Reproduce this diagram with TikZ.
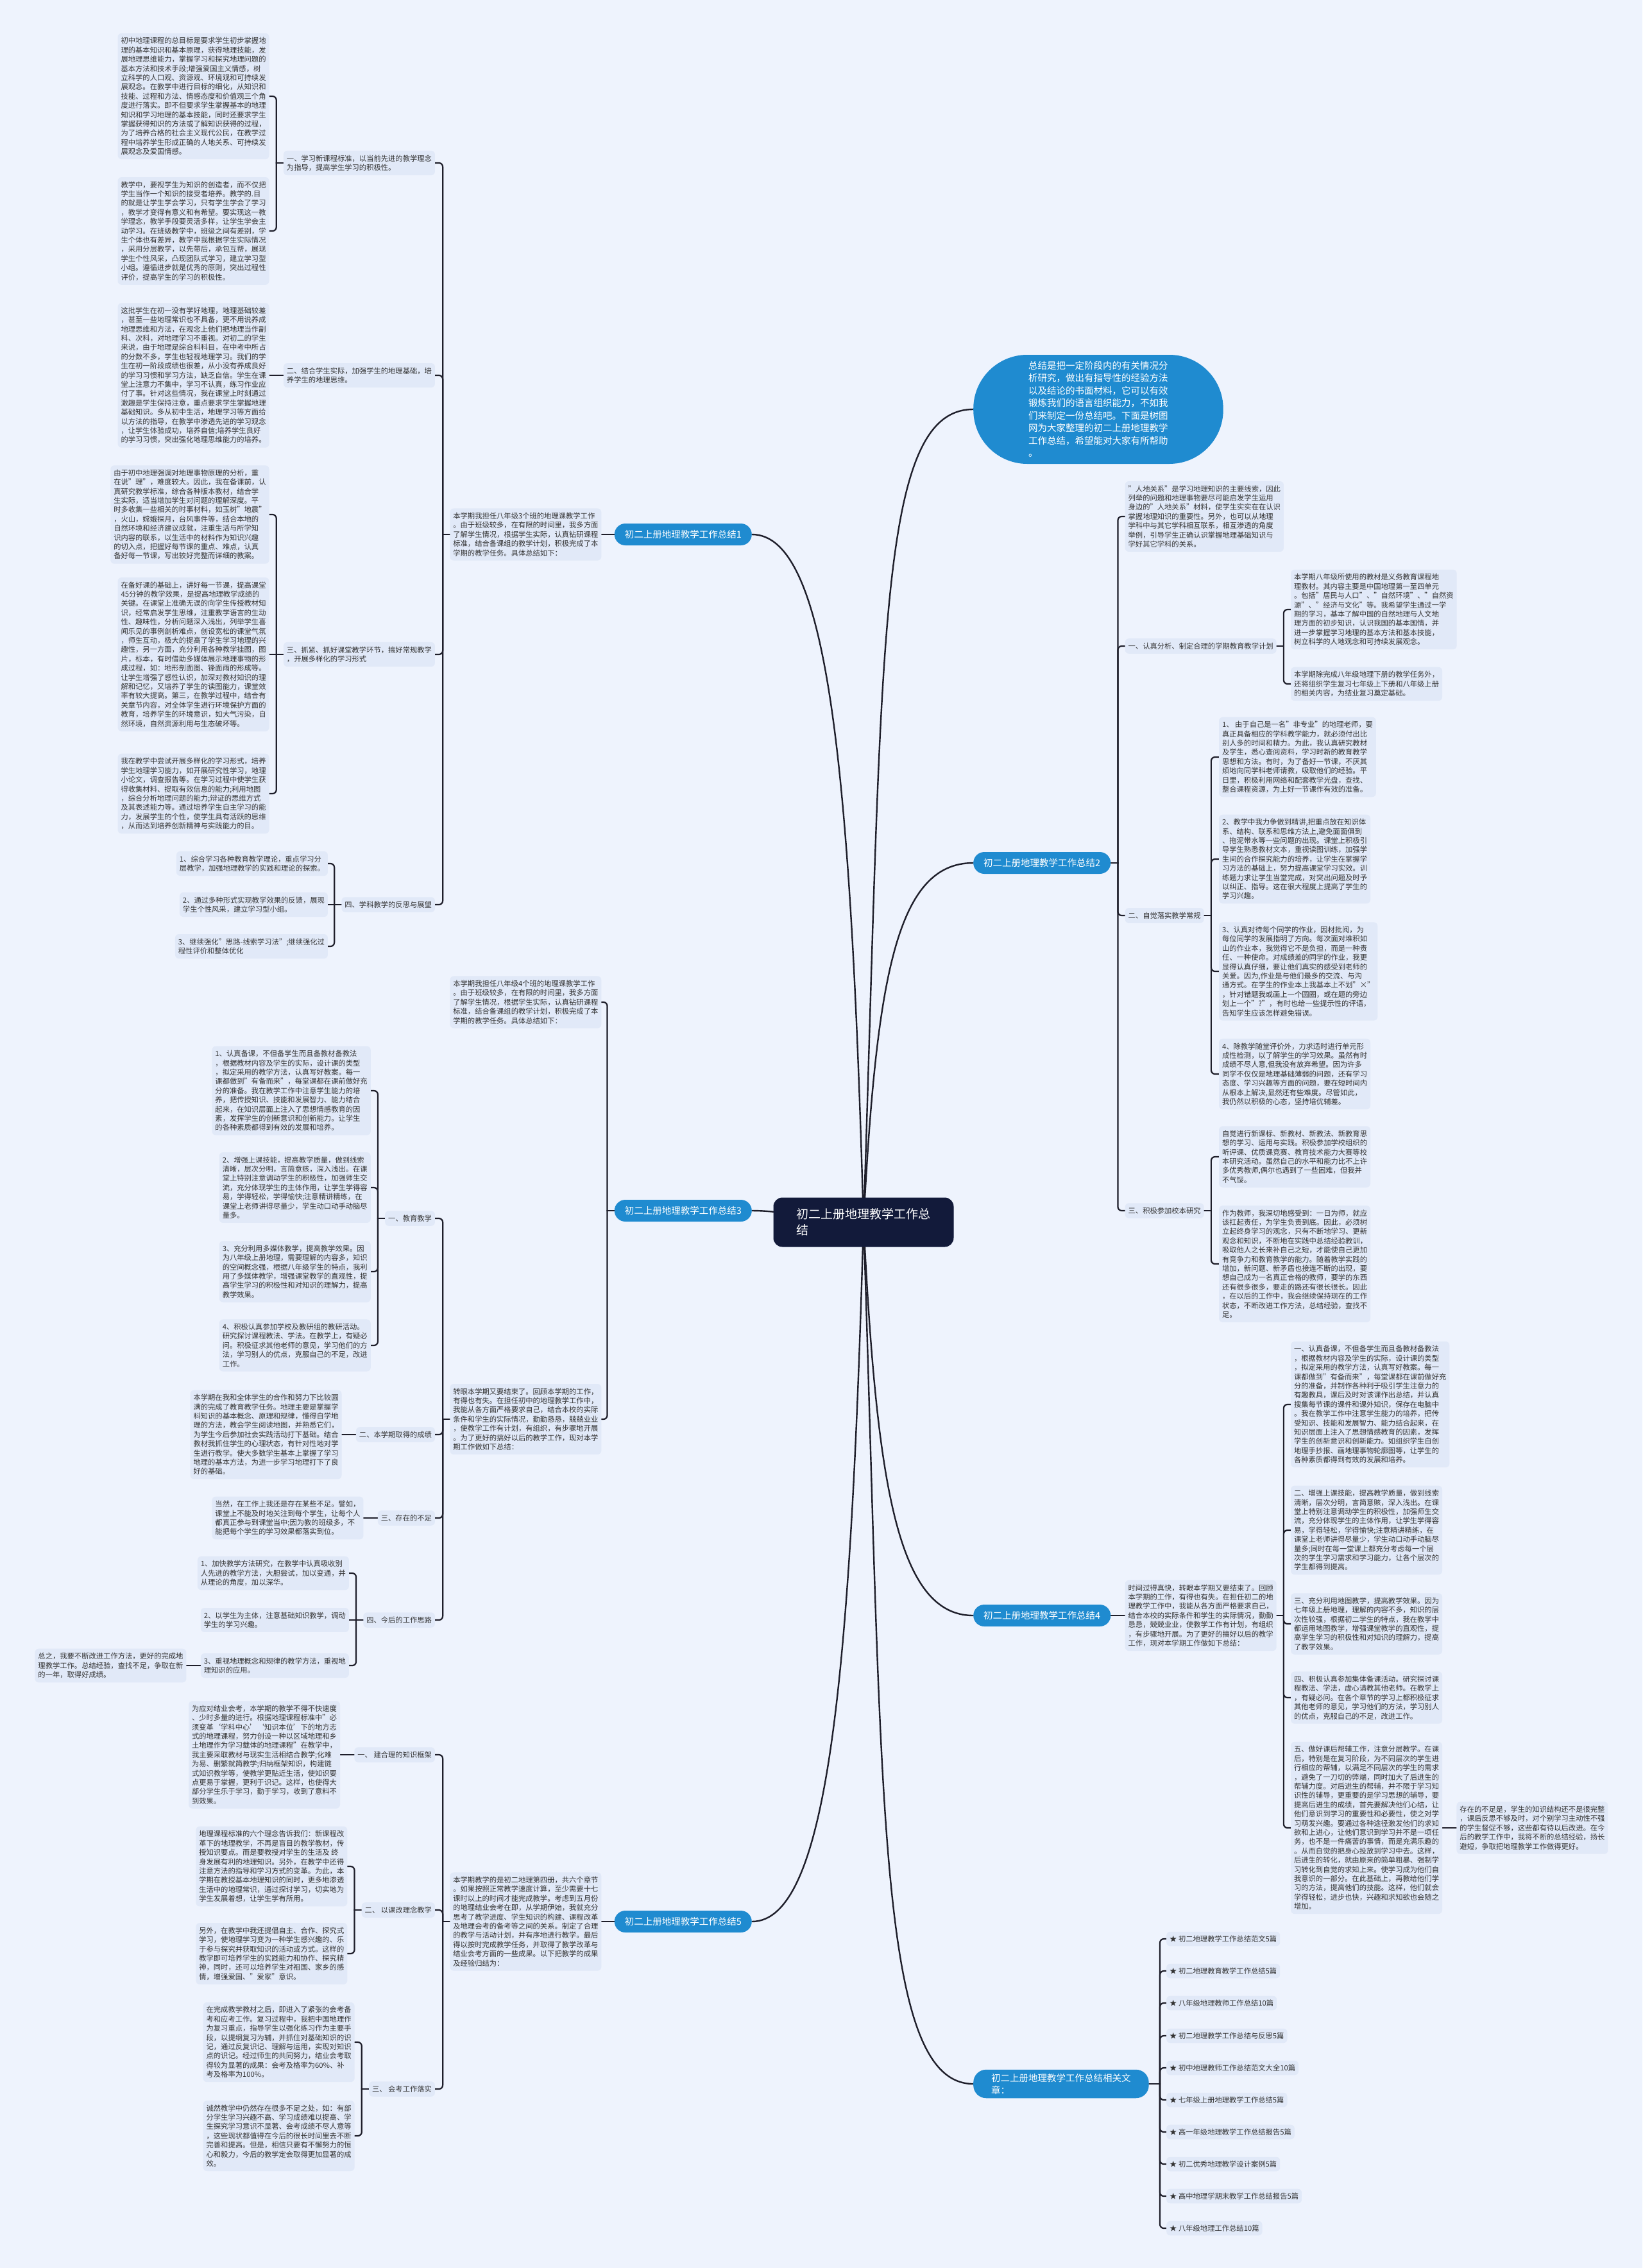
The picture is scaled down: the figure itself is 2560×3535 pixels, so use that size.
\documentclass[tikz,border=0pt]{standalone}
\usepackage{fontspec}
\setmainfont{Noto Sans CJK SC}
\usetikzlibrary{calc,backgrounds}
\definecolor{bgc}{HTML}{EEF3FD}
\definecolor{boxc}{HTML}{E1E9F8}
\definecolor{txt}{HTML}{333333}
\definecolor{linec}{HTML}{1E1E2A}
\definecolor{pillc}{HTML}{1F8BD0}
\definecolor{rootc}{HTML}{121A3A}
\newcommand{\brL}[2]{\draw[conn] (#1.west) -- ++(-11,0); \draw[conn] ($(#1.west)+(-11,0)$) |- (#2.east);}
\newcommand{\brR}[2]{\draw[conn] (#1.east) -- ++(11,0); \draw[conn] ($(#1.east)+(11,0)$) |- (#2.west);}
\newcommand{\stL}[2]{\draw[conn] (#1.west) -- (#2.east);}
\newcommand{\stR}[2]{\draw[conn] (#1.east) -- (#2.west);}
\begin{document}
\begin{tikzpicture}[x=1pt,y=-1pt,
  box/.style={fill=boxc, rounded corners=6pt, inner xsep=5pt, inner ysep=6.5pt, align=left, text=txt, font=\fontsize{11.3}{14.4}\selectfont},
  pill/.style={fill=pillc, rounded corners=17pt, text=white, inner xsep=16pt, inner ysep=6pt, minimum height=34pt, align=left, font=\fontsize{14.5}{19}\selectfont},
  conn/.style={draw=linec, line width=2.2pt, rounded corners=6pt, line cap=round},
  rootconn/.style={draw=linec, line width=2.4pt, line cap=round}]
\useasboundingbox (0,0) rectangle (2560,3535);

% ---------- root ----------
\node[fill=rootc, text=white, rounded corners=14pt, inner xsep=36pt, inner ysep=13pt, minimum height=77pt, align=left, font=\fontsize{19}{25}\selectfont] (root) at (1346,1905) {初二上册地理教学工作总\\结};

% ---------- root intro ----------
\node[fill=pillc, text=white, rounded corners=84pt, inner xsep=86pt, inner ysep=8pt, minimum height=170pt, align=left, font=\fontsize{14.5}{19.5}\selectfont, anchor=west] (RI) at (1517,638) {总结是把一定阶段内的有关情况分\\析研究，做出有指导性的经验方法\\以及结论的书面材料，它可以有效\\锻炼我们的语言组织能力，不如我\\们来制定一份总结吧。下面是树图\\网为大家整理的初二上册地理教学\\工作总结，希望能对大家有所帮助\\。};

% ---------- section 1 ----------
\node[pill, anchor=east] (T1) at (1172,833) {初二上册地理教学工作总结1};
\node[box, anchor=east] (I1) at ($(T1.west)+(-20,0)$) {本学期我担任八年级3个班的地理课教学工作\\。由于班级较多，在有限的时间里，我多方面\\了解学生情况，根据学生实际，认真钻研课程\\标准，结合备课组的教学计划，积极完成了本\\学期的教学任务。具体总结如下：};
\node[box, anchor=east] (L1) at ($(I1.west)+(-23,-579)$) {一、学习新课程标准，以当前先进的教学理念\\为指导，提高学生学习的积极性。};
\node[box, anchor=east] (L2) at ($(I1.west)+(-23,-248)$) {二、结合学生实际，加强学生的地理基础，培\\养学生的地理思维。};
\node[box, anchor=east] (L3) at ($(I1.west)+(-23,187)$) {三、抓紧、抓好课堂教学环节，搞好常规教学\\，开展多样化的学习形式};
\node[box, anchor=east] (L4) at ($(I1.west)+(-23,577)$) {四、学科教学的反思与展望};
\node[box, anchor=east] (A1) at ($(L1.west)+(-22,-104)$) {初中地理课程的总目标是要求学生初步掌握地\\理的基本知识和基本原理，获得地理技能，发\\展地理思维能力，掌握学习和探究地理问题的\\基本方法和技术手段;增强爱国主义情感，树\\立科学的人口观、资源观、环境观和可持续发\\展观念。在教学中进行目标的细化，从知识和\\技能、过程和方法、情感态度和价值观三个角\\度进行落实。即不但要求学生掌握基本的地理\\知识和学习地理的基本技能，同时还要求学生\\掌握获得知识的方法或了解知识获得的过程，\\为了培养合格的社会主义现代公民，在教学过\\程中培养学生形成正确的人地关系、可持续发\\展观念及爱国情感。};
\node[box, anchor=east] (A2) at ($(L1.west)+(-22,106)$) {教学中，要视学生为知识的创造者，而不仅把\\学生当作一个知识的接受者培养。教学的.目\\的就是让学生学会学习，只有学生学会了学习\\，教学才变得有意义和有希望。要实现这一教\\学理念，教学手段要灵活多样，让学生学会主\\动学习。在班级教学中，班级之间有差别，学\\生个体也有差异，教学中我根据学生实际情况\\，采用分层教学，以先带后，承包互帮，展现\\学生个性风采，凸现团队式学习，建立学习型\\小组。遵循进步就是优秀的原则，突出过程性\\评价，提高学生的学习的积极性。};
\node[box, anchor=east] (A3) at ($(L2.west)+(-22,0)$) {这批学生在初一没有学好地理，地理基础较差\\，甚至一些地理常识也不具备，更不用说养成\\地理思维和方法，在观念上他们把地理当作副\\科、次科，对地理学习不重视。对初二的学生\\来说，由于地理是综合科科目，在中考中所占\\的分数不多，学生也轻视地理学习。我们的学\\生在初一阶段成绩也很差，从小没有养成良好\\的学习习惯和学习方法，缺乏自信。学生在课\\堂上注意力不集中，学习不认真，练习作业应\\付了事。针对这些情况，我在课堂上时刻通过\\激趣是学生保持注意，重点要求学生掌握地理\\基础知识。多从初中生活，地理学习等方面给\\以方法的指导，在教学中渗透先进的学习观念\\，让学生体验成功，培养自信;培养学生良好\\的学习习惯，突出强化地理思维能力的培养。};
\node[box, anchor=east] (A4) at ($(L3.west)+(-22,-218)$) {由于初中地理强调对地理事物原理的分析，重\\在说"理"，难度较大。因此，我在备课前，认\\真研究教学标准，综合各种版本教材，结合学\\生实际，适当增加学生对问题的理解深度。平\\时多收集一些相关的时事材料，如玉树"地震"\\，火山，嫦娥探月，台风事件等，结合本地的\\自然环境和经济建议成就，注重生活与所学知\\识内容的联系，以生活中的材料作为知识兴趣\\的切入点，把握好每节课的重点、难点，认真\\备好每一节课，写出较好完整而详细的教案。};
\node[box, anchor=east] (A5) at ($(L3.west)+(-22,0)$) {在备好课的基础上，讲好每一节课，提高课堂\\45分钟的教学效果，是提高地理教学成绩的\\关键。在课堂上准确无误的向学生传授教材知\\识，经常启发学生思维，注重教学语言的生动\\性、趣味性，分析问题深入浅出，列举学生喜\\闻乐见的事例剖析难点，创设宽松的课堂气氛\\，师生互动，极大的提高了学生学习地理的兴\\趣性，另一方面，充分利用各种教学挂图，图\\片，标本，有时借助多媒体展示地理事物的形\\成过程，如：地形剖面图、锋面雨的形成等。\\让学生增强了感性认识，加深对教材知识的理\\解和记忆，又培养了学生的读图能力，课堂效\\率有较大提高。第三，在教学过程中，结合有\\关章节内容，对全体学生进行环境保护方面的\\教育，培养学生的环境意识，如大气污染，自\\然环境，自然资源利用与生态破坏等。};
\node[box, anchor=east] (A6) at ($(L3.west)+(-22,217)$) {我在教学中尝试开展多样化的学习形式，培养\\学生地理学习能力，如开展研究性学习，地理\\小论文，调查报告等。在学习过程中使学生获\\得收集材料、提取有效信息的能力;利用地图\\，综合分析地理问题的能力;辩证的思维方式\\及其表述能力等。通过培养学生自主学习的能\\力，发展学生的个性，使学生具有活跃的思维\\，从而达到培养创新精神与实践能力的目。};
\node[box, anchor=east] (B1) at ($(L4.west)+(-21,-64)$) {1、综合学习各种教育教学理论，重点学习分\\层教学，加强地理教学的实践和理论的探索。};
\node[box, anchor=east] (B2) at ($(L4.west)+(-21,0)$) {2、通过多种形式实现教学效果的反馈，展现\\学生个性风采，建立学习型小组。};
\node[box, anchor=east] (B3) at ($(L4.west)+(-21,65)$) {3、继续强化"思路-线索学习法";继续强化过\\程性评价和整体优化};

% ---------- section 3 ----------
\node[pill, anchor=east] (T3) at (1172,1887) {初二上册地理教学工作总结3};
\node[box, anchor=east] (I3) at ($(T3.west)+(-20,-325)$) {本学期我担任八年级4个班的地理课教学工作\\。由于班级较多，在有限的时间里，我多方面\\了解学生情况，根据学生实际，认真钻研课程\\标准，结合备课组的教学计划，积极完成了本\\学期的教学任务。具体总结如下：};
\node[box, anchor=east] (I3b) at ($(T3.west)+(-20,325)$) {转眼本学期又要结束了。回顾本学期的工作，\\有得也有失。在担任初中的地理教学工作中，\\我能从各方面严格要求自己，结合本校的实际\\条件和学生的实际情况，勤勤恳恳，兢兢业业\\，使教学工作有计划，有组织，有步骤地开展\\。为了更好的搞好以后的教学工作，现对本学\\期工作做如下总结：};
\node[box, anchor=east] (S31) at ($(I3b.west)+(-23,-313)$) {一、教育教学};
\node[box, anchor=east] (S32) at ($(I3b.west)+(-23,24)$) {二、本学期取得的成绩};
\node[box, anchor=east] (S33) at ($(I3b.west)+(-23,154)$) {三、存在的不足};
\node[box, anchor=east] (S34) at ($(I3b.west)+(-23,313)$) {四、今后的工作思路};
\node[box, anchor=east] (C1) at ($(S31.west)+(-22,-199)$) {1、认真备课，不但备学生而且备教材备教法\\，根据教材内容及学生的实际，设计课的类型\\，拟定采用的教学方法，认真写好教案。每一\\课都做到"有备而来"，每堂课都在课前做好充\\分的准备。我在教学工作中注意学生能力的培\\养，把传授知识、技能和发展智力、能力结合\\起来，在知识层面上注入了思想情感教育的因\\素，发挥学生的创新意识和创新能力。让学生\\的各种素质都得到有效的发展和培养。};
\node[box, anchor=east] (C2) at ($(S31.west)+(-22,-48)$) {2、增强上课技能，提高教学质量，做到线索\\清晰，层次分明，言简意赅，深入浅出。在课\\堂上特别注意调动学生的积极性，加强师生交\\流，充分体现学生的主体作用，让学生学得容\\易，学得轻松，学得愉快;注意精讲精练，在\\课堂上老师讲得尽量少，学生动口动手动脑尽\\量多。};
\node[box, anchor=east] (C3) at ($(S31.west)+(-22,83)$) {3、充分利用多媒体教学，提高教学效果。因\\为八年级上册地理，需要理解的内容多，知识\\的空间概念强，根据八年级学生的特点，我利\\用了多媒体教学，增强课堂教学的直观性，提\\高学生学习的积极性和对知识的理解力，提高\\教学效果。};
\node[box, anchor=east] (C4) at ($(S31.west)+(-22,198)$) {4、积极认真参加学校及教研组的教研活动。\\研究探讨课程教法、学法。在教学上，有疑必\\问。积极征求其他老师的意见，学习他们的方\\法，学习别人的优点，克服自己的不足，改进\\工作。};
\node[box, anchor=east] (D1) at ($(S32.west)+(-22,0)$) {本学期在我和全体学生的合作和努力下比较圆\\满的完成了教育教学任务。地理主要是掌握学\\科知识的基本概念、原理和规律，懂得自学地\\理的方法，教会学生阅读地图，并熟悉它们，\\为学生今后参加社会实践活动打下基础。结合\\教材我抓住学生的心理状态，有针对性地对学\\生进行教学。使大多数学生基本上掌握了学习\\地理的基本方法，为进一步学习地理打下了良\\好的基础。};
\node[box, anchor=east] (D2) at ($(S33.west)+(-22,0)$) {当然，在工作上我还是存在某些不足。譬如，\\课堂上不能及时地关注到每个学生，让每个人\\都真正参与到课堂当中;因为教的班级多，不\\能把每个学生的学习效果都落实到位。};
\node[box, anchor=east] (E1) at ($(S34.west)+(-22,-73)$) {1、加快教学方法研究，在教学中认真吸收别\\人先进的教学方法，大胆尝试，加以变通，并\\从理论的角度，加以深华。};
\node[box, anchor=east] (E2) at ($(S34.west)+(-22,0)$) {2、以学生为主体，注意基础知识教学，调动\\学生的学习兴趣。};
\node[box, anchor=east] (E3) at ($(S34.west)+(-22,71)$) {3、重视地理概念和规律的教学方法，重视地\\理知识的应用。};
\node[box, anchor=east] (Z) at ($(E3.west)+(-22,0)$) {总之，我要不断改进工作方法，更好的完成地\\理教学工作。总结经验，查找不足，争取在新\\的一年，取得好成绩。};

% ---------- section 5 ----------
\node[pill, anchor=east] (T5) at (1172,2995) {初二上册地理教学工作总结5};
\node[box, anchor=east] (I5) at ($(T5.west)+(-20,0)$) {本学期教学的是初二地理第四册，共六个章节\\。如果按照正常教学速度计算，至少需要十七\\课时以上的时间才能完成教学。考虑到五月份\\的地理结业会考在即，从学期伊始，我就充分\\思考了教学进度、学生知识的构建、课程改革\\及地理会考的备考等之间的关系。制定了合理\\的教学与活动计划，并有序地进行教学。最后\\得以按时完成教学任务，并取得了教学改革与\\结业会考方面的一些成果。以下把教学的成果\\及经验归结为：};
\node[box, anchor=east] (S51) at ($(I5.west)+(-23,-260)$) {一、 建合理的知识框架};
\node[box, anchor=east] (S52) at ($(I5.west)+(-23,-18)$) {二、 以课改理念教学};
\node[box, anchor=east] (S53) at ($(I5.west)+(-23,261)$) {三、 会考工作落实};
\node[box, anchor=east] (F1) at ($(S51.west)+(-22,0)$) {为应对结业会考，本学期的教学不得不快速度\\、少时多量的进行。根据地理课程标准中"必\\须变革‘学科中心’‘知识本位’下的地方志\\式的地理课程，努力创设一种以区域地理和乡\\土地理作为学习载体的地理课程"在教学中，\\我主要采取教材与现实生活相结合教学;化难\\为易、删繁就简教学;归纳框架知识，构建链\\式知识教学等，使教学更贴近生活，使知识要\\点更易于掌握，更利于识记。这样，也使得大\\部分学生乐于学习，勤于学习，收到了意料不\\到效果。};
\node[box, anchor=east] (F2) at ($(S52.west)+(-22,-68)$) {地理课程标准的六个理念告诉我们：新课程改\\革下的地理教学，不再是盲目的教学教材，传\\授知识要点。而是要教授对学生的生活及 终\\身发展有利的地理知识。另外，在教学中还得\\注意方法的指导和学习方式的变革。为此，本\\学期在教授基本地理知识的同时，更多地渗透\\生活中的地理常识，通过探讨学习，切实地为\\学生发展着想，让学生学有所用。};
\node[box, anchor=east] (F3) at ($(S52.west)+(-22,68)$) {另外，在教学中我还提倡自主、合作、探究式\\学习，使地理学习变为一种学生感兴趣的、乐\\于参与探究并获取知识的活动或方式。这样的\\教学即可培养学生的实践能力和协作、探究精\\神，同时，还可以培养学生对祖国、家乡的感\\情，增强爱国、"爱家"意识。};
\node[box, anchor=east] (F4) at ($(S53.west)+(-22,-73)$) {在完成教学教材之后，即进入了紧张的会考备\\考和应考工作。复习过程中，我把中国地理作\\为复习重点，指导学生以强化练习作为主要手\\段，以提纲复习为辅，并抓住对基础知识的识\\记，通过反复识记、理解与运用，实现对知识\\点的识记。经过师生的共同努力，结业会考取\\得较为显著的成果：会考及格率为60\%、补\\考及格率为100\%。};
\node[box, anchor=east] (F5) at ($(S53.west)+(-22,73)$) {诚然教学中仍然存在很多不足之处，如：有部\\分学生学习兴趣不高、学习成绩难以提高、学\\生探究学习意识不显著、会考成绩不尽人意等\\，这些现状都值得在今后的很长时间里去不断\\完善和提高。但是，相信只要有不懈努力的恒\\心和毅力，今后的教学定会取得更加显著的成\\效。};

% ---------- section 2 ----------
\node[pill, anchor=west] (T2) at (1517,1345) {初二上册地理教学工作总结2};
\node[box, anchor=west] (J1) at ($(T2.east)+(22,-540)$) {"人地关系"是学习地理知识的主要线索，因此\\列举的问题和地理事物要尽可能启发学生运用\\身边的"人地关系"材料，使学生实实在在认识\\掌握地理知识的重要性。另外，也可以从地理\\学科中与其它学科相互联系，相互渗透的角度\\举例，引导学生正确认识掌握地理基础知识与\\学好其它学科的关系。};
\node[box, anchor=west] (K) at ($(T2.east)+(22,-338)$) {一、认真分析、制定合理的学期教育教学计划};
\node[box, anchor=west] (S22) at ($(T2.east)+(22,82)$) {二、自觉落实教学常规};
\node[box, anchor=west] (S23) at ($(T2.east)+(22,542)$) {三、积极参加校本研究};
\node[box, anchor=west] (K1) at ($(K.east)+(22,-57)$) {本学期八年级所使用的教材是义务教育课程地\\理教材。其内容主要是中国地理第一至四单元\\。包括"居民与人口"、"自然环境"、"自然资\\源"、"经济与文化"等。我希望学生通过一学\\期的学习，基本了解中国的自然地理与人文地\\理方面的初步知识，认识我国的基本国情，并\\进一步掌握学习地理的基本方法和基本技能，\\树立科学的人地观念和可持续发展观念。};
\node[box, anchor=west] (K2) at ($(K.east)+(22,59)$) {本学期除完成八年级地理下册的教学任务外，\\还将组织学生复习七年级上下册和八年级上册\\的相关内容，为结业复习奠定基础。};
\node[box, anchor=west] (M1) at ($(S22.east)+(23,-247)$) {1、 由于自己是一名"非专业"的地理老师，要\\真正具备相应的学科教学能力，就必须付出比\\别人多的时间和精力。为此，我认真研究教材\\及学生，悉心查阅资料，学习时新的教育教学\\思想和方法。有时，为了备好一节课，不厌其\\烦地向同学科老师请教，吸取他们的经验。平\\日里，积极利用网络和配套教学光盘，查找、\\整合课程资源，为上好一节课作有效的准备。};
\node[box, anchor=west] (M2) at ($(S22.east)+(23,-88)$) {2、教学中我力争做到精讲,把重点放在知识体\\系、结构、联系和思维方法上,避免面面俱到\\、拖泥带水等一些问题的出现。课堂上积极引\\导学生熟悉教材文本，重视读图训练，加强学\\生间的合作探究能力的培养，让学生在掌握学\\习方法的基础上，努力提高课堂学习实效。训\\练题力求让学生当堂完成，对突出问题及时予\\以纠正、指导。这在很大程度上提高了学生的\\学习兴趣。};
\node[box, anchor=west] (M3) at ($(S22.east)+(23,87)$) {3、认真对待每个同学的作业，因材批阅，为\\每位同学的发展指明了方向。每次面对堆积如\\山的作业本，我觉得它不是负担，而是一种责\\任、一种使命。对成绩差的同学的作业，我更\\显得认真仔细，要让他们真实的感受到老师的\\关爱。因为,作业是与他们最多的交流、与沟\\通方式。在学生的作业本上我基本上不划"×"\\，针对错题我或画上一个圆圈，或在题的旁边\\划上一个"?"，有时也给一些提示性的评语，\\告知学生应该怎样避免错误。};
\node[box, anchor=west] (M4) at ($(S22.east)+(23,247)$) {4、除教学随堂评价外，力求适时进行单元形\\成性检测，以了解学生的学习效果。虽然有时\\成绩不尽人意,但我没有放弃希望。因为许多\\同学不仅仅是地理基础薄弱的问题，还有学习\\态度、学习兴趣等方面的问题，要在短时间内\\从根本上解决,显然还有些难度。尽管如此，\\我仍然以积极的心态，坚持培优辅差。};
\node[box, anchor=west] (N1) at ($(S23.east)+(23,-84)$) {自觉进行新课标、新教材、新教法、新教育思\\想的学习、运用与实践。积极参加学校组织的\\听评课、优质课竞赛、教育技术能力大赛等校\\本研究活动。虽然自己的水平和能力比不上许\\多优秀教师,偶尔也遇到了一些困难，但我并\\不气馁。};
\node[box, anchor=west] (N2) at ($(S23.east)+(23,83)$) {作为教师，我深切地感受到：一日为师，就应\\该扛起责任，为学生负责到底。因此，必须树\\立起终身学习的观念，只有不断地学习、更新\\观念和知识，不断地在实践中总结经验教训，\\吸取他人之长来补自己之短，才能使自己更加\\有竞争力和教育教学的能力。随着教学实践的\\增加，新问题、新矛盾也接连不断的出现，要\\想自己成为一名真正合格的教师，要学的东西\\还有很多很多，要走的路还有很长很长。因此\\，在以后的工作中，我会继续保持现在的工作\\状态，不断改进工作方法，总结经验，查找不\\足。};

% ---------- section 4 ----------
\node[pill, anchor=west] (T4) at (1517,2518) {初二上册地理教学工作总结4};
\node[box, anchor=west] (I4) at ($(T4.east)+(22,0)$) {时间过得真快，转眼本学期又要结束了。回顾\\本学期的工作，有得也有失。在担任初二的地\\理教学工作中，我能从各方面严格要求自己，\\结合本校的实际条件和学生的实际情况，勤勤\\恳恳，兢兢业业，使教学工作有计划，有组织\\，有步骤地开展。为了更好的搞好以后的教学\\工作，现对本学期工作做如下总结：};
\node[box, anchor=west] (G1) at ($(I4.east)+(22,-329)$) {一、认真备课，不但备学生而且备教材备教法\\，根据教材内容及学生的实际，设计课的类型\\，拟定采用的教学方法，认真写好教案。每一\\课都做到"有备而来"，每堂课都在课前做好充\\分的准备，并制作各种利于吸引学生注意力的\\有趣教具，课后及时对该课作出总结，并认真\\搜集每节课的课件和课外知识，保存在电脑中\\。我在教学工作中注意学生能力的培养，把传\\受知识、技能和发展智力、能力结合起来，在\\知识层面上注入了思想情感教育的因素，发挥\\学生的创新意识和创新能力。如组织学生自创\\地理手抄报、画地理事物轮廓图等，让学生的\\各种素质都得到有效的发展和培养。};
\node[box, anchor=west] (G2) at ($(I4.east)+(22,-133)$) {二、增强上课技能，提高教学质量，做到线索\\清晰，层次分明，言简意赅，深入浅出。在课\\堂上特别注意调动学生的积极性，加强师生交\\流，充分体现学生的主体作用，让学生学得容\\易，学得轻松，学得愉快;注意精讲精练，在\\课堂上老师讲得尽量少，学生动口动手动脑尽\\量多;同时在每一堂课上都充分考虑每一个层\\次的学生学习需求和学习能力，让各个层次的\\学生都得到提高。};
\node[box, anchor=west] (G3) at ($(I4.east)+(22,13)$) {三、充分利用地图教学，提高教学效果。因为\\七年级上册地理，理解的内容不多，知识的层\\次性较强，根据初二学生的特点，我在教学中\\都运用地图教学，增强课堂教学的直观性，提\\高学生学习的积极性和对知识的理解力，提高\\了教学效果。};
\node[box, anchor=west] (G4) at ($(I4.east)+(22,128)$) {四、积极认真参加集体备课活动。研究探讨课\\程教法、学法，虚心请教其他老师。在教学上\\，有疑必问。在各个章节的学习上都积极征求\\其他老师的意见，学习他们的方法，学习别人\\的优点，克服自己的不足，改进工作。};
\node[box, anchor=west] (G5) at ($(I4.east)+(22,331)$) {五、做好课后帮辅工作，注意分层教学。在课\\后，特别是在复习阶段，为不同层次的学生进\\行相应的帮辅，以满足不同层次的学生的需求\\，避免了一刀切的弊端，同时加大了后进生的\\帮辅力度。对后进生的帮辅，并不限于学习知\\识性的辅导，更重要的是学习思想的辅导，要\\提高后进生的成绩，首先要解决他们心结，让\\他们意识到学习的重要性和必要性，使之对学\\习萌发兴趣。要通过各种途径激发他们的求知\\欲和上进心，让他们意识到学习并不是一项任\\务，也不是一件痛苦的事情，而是充满乐趣的\\。从而自觉的把身心投放到学习中去。这样，\\后进生的转化，就由原来的简单粗暴、强制学\\习转化到自觉的求知上来。使学习成为他们自\\我意识的一部分。在此基础上，再教给他们学\\习的方法，提高他们的技能。这样，他们就会\\学得轻松，进步也快，兴趣和求知欲也会随之\\增加。};
\node[box, anchor=west] (H) at ($(G5.east)+(22,0)$) {存在的不足是，学生的知识结构还不是很完整\\，课后反思不够及时，对个别学习主动性不强\\的学生督促不够，这些都有待以后改进。在今\\后的教学工作中，我将不断的总结经验，扬长\\避短，争取把地理教学工作做得更好。};

% ---------- section 6 ----------
\node[pill, anchor=west, rounded corners=20pt, inner xsep=28pt] (T6) at (1517,3248) {初二上册地理教学工作总结相关文\\章：};
\coordinate (sp) at (1808,3248);
\node[box, anchor=west, inner ysep=6pt] (R1) at (1818,3022) {★ 初二地理教学工作总结范文5篇};
\node[box, anchor=west, inner ysep=6pt] (R2) at (1818,3072) {★ 初二地理教育教学工作总结5篇};
\node[box, anchor=west, inner ysep=6pt] (R3) at (1818,3122) {★ 八年级地理教师工作总结10篇};
\node[box, anchor=west, inner ysep=6pt] (R4) at (1818,3173) {★ 初二地理教学工作总结与反思5篇};
\node[box, anchor=west, inner ysep=6pt] (R5) at (1818,3223) {★ 初中地理教师工作总结范文大全10篇};
\node[box, anchor=west, inner ysep=6pt] (R6) at (1818,3273) {★ 七年级上册地理教学工作总结5篇};
\node[box, anchor=west, inner ysep=6pt] (R7) at (1818,3323) {★ 高一年级地理教学工作总结报告5篇};
\node[box, anchor=west, inner ysep=6pt] (R8) at (1818,3373) {★ 初二优秀地理教学设计案例5篇};
\node[box, anchor=west, inner ysep=6pt] (R9) at (1818,3423) {★ 高中地理学期末教学工作总结报告5篇};
\node[box, anchor=west, inner ysep=6pt] (R10) at (1818,3473) {★ 八年级地理工作总结10篇};

% ---------- connectors ----------
\begin{pgfonlayer}{background}
\fill[bgc] (0,0) rectangle (2560,3535);
\draw[rootconn] (root.center) .. controls +(-20,-700) and +(120,0) .. (T1.east);
\draw[rootconn] (root.center) .. controls +(-60,0) and +(60,0) .. (T3.east);
\draw[rootconn] (root.center) .. controls +(-20,700) and +(120,0) .. (T5.east);
\draw[rootconn] (root.center) .. controls +(30,-900) and +(-150,0) .. (RI.west);
\draw[rootconn] (root.center) .. controls +(20,-380) and +(-120,0) .. (T2.west);
\draw[rootconn] (root.center) .. controls +(20,400) and +(-120,0) .. (T4.west);
\draw[rootconn] (root.center) .. controls +(30,900) and +(-150,0) .. (T6.west);
% section 1
\stL{T1}{I1}
\brL{I1}{L1} \brL{I1}{L2} \brL{I1}{L3} \brL{I1}{L4}
\brL{L1}{A1} \brL{L1}{A2}
\stL{L2}{A3}
\brL{L3}{A4} \stL{L3}{A5} \brL{L3}{A6}
\brL{L4}{B1} \stL{L4}{B2} \brL{L4}{B3}
% section 3
\brL{T3}{I3} \brL{T3}{I3b}
\brL{I3b}{S31} \brL{I3b}{S32} \brL{I3b}{S33} \brL{I3b}{S34}
\brL{S31}{C1} \brL{S31}{C2} \brL{S31}{C3} \brL{S31}{C4}
\stL{S32}{D1} \stL{S33}{D2}
\brL{S34}{E1} \stL{S34}{E2} \brL{S34}{E3}
\stL{E3}{Z}
% section 5
\stL{T5}{I5}
\brL{I5}{S51} \brL{I5}{S52} \brL{I5}{S53}
\stL{S51}{F1}
\brL{S52}{F2} \brL{S52}{F3}
\brL{S53}{F4} \brL{S53}{F5}
% section 2
\brR{T2}{J1} \brR{T2}{K} \brR{T2}{S22} \brR{T2}{S23}
\brR{K}{K1} \brR{K}{K2}
\brR{S22}{M1} \brR{S22}{M2} \brR{S22}{M3} \brR{S22}{M4}
\brR{S23}{N1} \brR{S23}{N2}
% section 4
\stR{T4}{I4}
\brR{I4}{G1} \brR{I4}{G2} \brR{I4}{G3} \brR{I4}{G4} \brR{I4}{G5}
\stR{G5}{H}
% section 6
\draw[conn] (T6.east) -- (T6.east -| sp);
\foreach \r in {R1,R2,R3,R4,R5,R6,R7,R8,R9,R10}
  \draw[conn] (sp) |- (\r.west);
\end{pgfonlayer}
\end{tikzpicture}
\end{document}
